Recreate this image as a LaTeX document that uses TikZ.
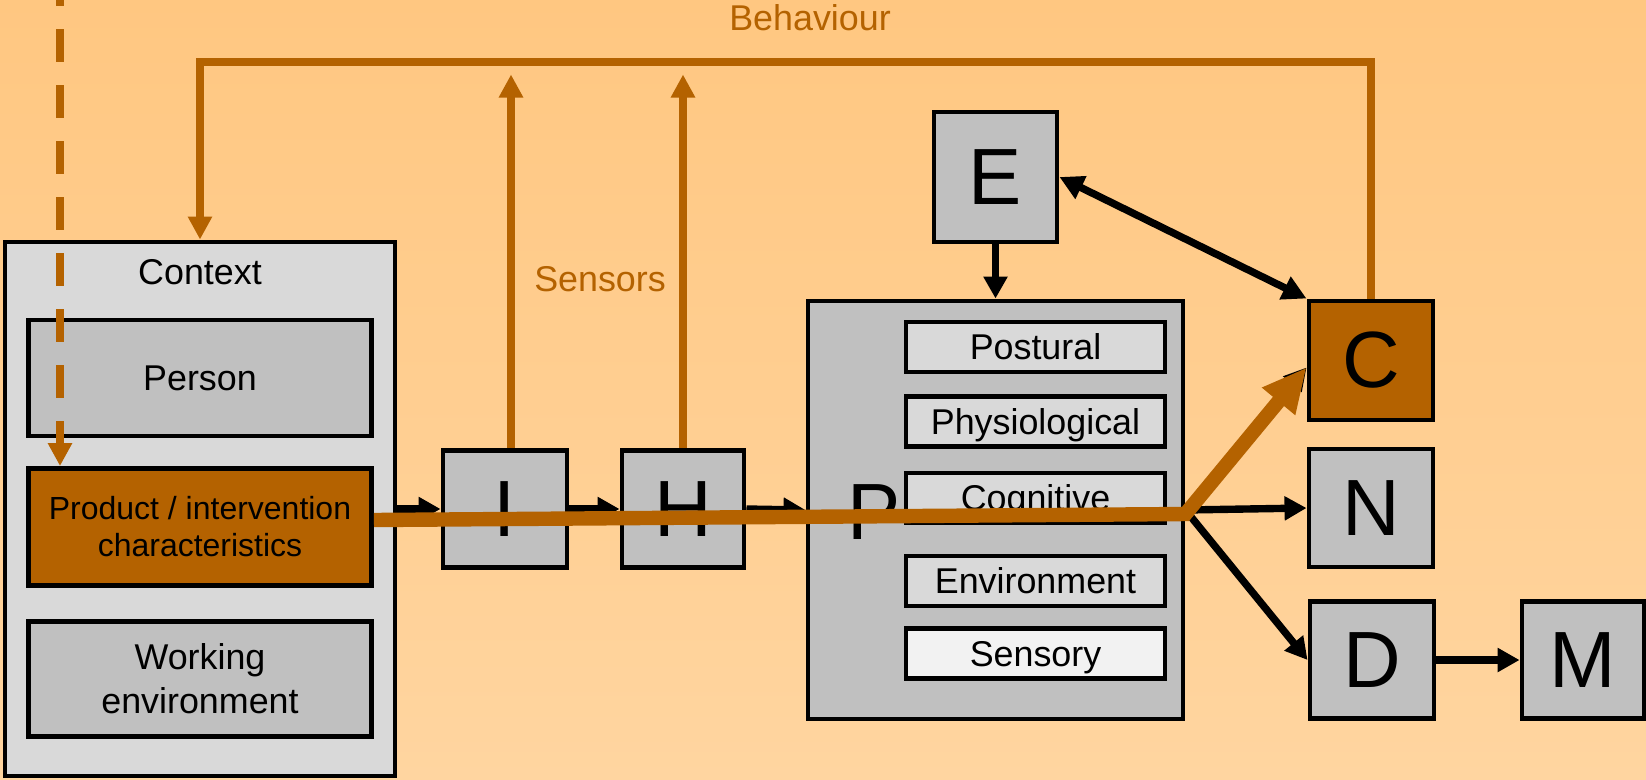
\documentclass[tikz,border=0pt]{standalone}
\usepackage{fontspec}
\setmainfont{Liberation Sans}
\usetikzlibrary{arrows.meta}

\definecolor{rust}{RGB}{180,98,0}
\definecolor{boxgrey}{RGB}{192,192,192}
\definecolor{lightgrey}{RGB}{217,217,217}
\definecolor{palegrey}{RGB}{242,242,242}
\definecolor{bgtop}{RGB}{255,199,129}
\definecolor{bgbot}{RGB}{255,213,160}

\begin{document}
\begin{tikzpicture}[every node/.style={rectangle,draw,line width=1.4pt,fill=boxgrey,inner sep=0pt,font=\fontsize{10.2}{12.5}\selectfont},
    lettbox/.style={minimum width=1.24cm,minimum height=1.17cm,font=\fontsize{22.7}{24}\selectfont},
    factorbox/.style={fill=lightgrey,minimum width=2.59cm,minimum height=0.5cm,text height=0.72em,text depth=0pt},
    plaintext/.style={draw=none,fill=none},
    rusttext/.style={draw=none,fill=none,text=rust},
    blackarrow/.style={-{Triangle[length=0.22cm,width=0.23cm]},line width=2.1pt,black},
    bothways/.style={{Triangle[length=0.24cm,width=0.24cm]}-{Triangle[length=0.24cm,width=0.24cm]}},
    rustarrow/.style={-{Triangle[length=0.23cm,width=0.23cm]},line width=2.2pt,rust},
    flowarrow/.style={-{Triangle[length=0.44cm,width=0.40cm]},line width=4.1pt,rust}]
    \useasboundingbox (0,0) rectangle (16.46,-7.79);
    \clip (0,0) rectangle (16.46,-7.79);
    \shade[top color=bgtop,bottom color=bgbot] (0,0) rectangle (16.46,-7.79);

    \node[fill=lightgrey,minimum width=3.9cm,minimum height=5.34cm] (ctx) at (2.00,-5.09) {};
    \node[plaintext] (ctxname) at (2.00,-2.72) {Context};
    \node[minimum width=3.43cm,minimum height=1.16cm] (person) at (2.00,-3.78) {Person};
    \node[fill=rust,minimum width=3.43cm,minimum height=1.17cm,align=center,font=\fontsize{9.1}{10.5}\selectfont] (product) at (2.00,-5.27) {Product / intervention\\characteristics};
    \node[minimum width=3.43cm,minimum height=1.15cm,align=center] (work) at (2.00,-6.79) {Working\\environment};

    \node[lettbox] (I) at (5.05,-5.09) {I};
    \node[lettbox,minimum width=1.22cm] (H) at (6.83,-5.09) {H};

    \node[minimum width=3.75cm,minimum height=4.18cm] (P) at (9.955,-5.10) {};
    \node[plaintext,font=\fontsize{22.7}{24}\selectfont] (Pname) at (8.74,-5.12) {P};
    \node[factorbox] (postural) at (10.355,-3.47) {Postural};
    \node[factorbox] (physio) at (10.355,-4.215) {Physiological};
    \node[factorbox] (cognitive) at (10.355,-4.98) {Cognitive};
    \node[factorbox] (environ) at (10.355,-5.81) {Environment};
    \node[factorbox,fill=palegrey] (sensory) at (10.355,-6.535) {Sensory};

    \node[lettbox,minimum width=1.23cm,minimum height=1.30cm] (E) at (9.955,-1.77) {E};
    \node[lettbox,fill=rust,minimum height=1.19cm] (C) at (13.71,-3.605) {C};
    \node[lettbox,minimum height=1.18cm] (N) at (13.71,-5.08) {N};
    \node[lettbox] (D) at (13.72,-6.60) {D};
    \node[lettbox,minimum width=1.22cm] (M) at (15.83,-6.60) {M};

    \node[rusttext] (behaviour) at (8.10,-0.18) {Behaviour};
    \node[rusttext] (sensors) at (6.00,-2.79) {Sensors};

    \path[blackarrow] (ctx.east) edge (I.west)
        (I.east) edge (H.west)
        (H.east) edge (P.west)
        (E.south) edge (P.north)
        (P.east) edge ([yshift=-0.07cm]C.west)
        (P.east) edge (N.west)
        (P.east) edge (D.west)
        (D.east) edge (M.west);
    \path[blackarrow,bothways] (E.east) edge (C.north west);

    \coordinate (bt) at (0,-0.62);
    \coordinate (st) at (0,-0.745);
    \coordinate (dtop) at (0.60,0.27);
    \draw[rustarrow] (C.north) -- (C.north |- bt) -- (ctx.north |- bt) -- (ctx.north);
    \draw[rustarrow] ([xshift=0.06cm]I.north) -- ([xshift=0.06cm]I.north |- st);
    \draw[rustarrow] (H.north) -- (H.north |- st);
    \draw[rustarrow,dash pattern=on 0.33cm off 0.23cm] (dtop) -- (dtop |- product.north);
    \draw[flowarrow] ([yshift=0.07cm]product.east) -- ([yshift=-0.04cm]P.east) -- ([yshift=-0.07cm]C.west);
\end{tikzpicture}
\end{document}
